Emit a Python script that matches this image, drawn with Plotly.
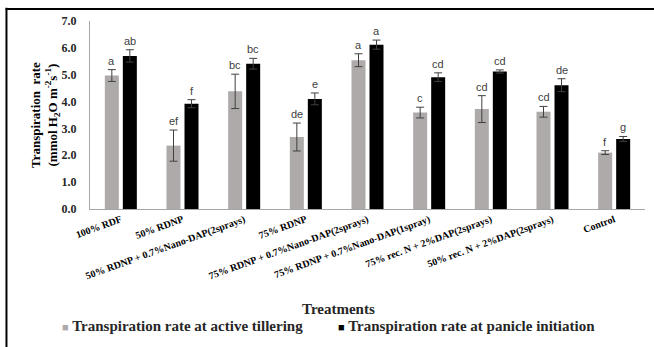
import plotly.graph_objects as go

# Treatments on the x axis
treatments = [
    "100% RDF",
    "50% RDNP",
    "50% RDNP + 0.7%Nano-DAP(2sprays)",
    "75% RDNP",
    "75% RDNP + 0.7%Nano-DAP(2sprays)",
    "75% RDNP + 0.7%Nano-DAP(1spray)",
    "75% rec. N + 2%DAP(2sprays)",
    "50% rec. N + 2%DAP(2sprays)",
    "Control",
]

# Transpiration rate (mmol H2O m-2 s-1) at active tillering
tillering = [4.97, 2.36, 4.38, 2.68, 5.54, 3.59, 3.72, 3.62, 2.10]
tillering_err = [0.22, 0.58, 0.64, 0.52, 0.24, 0.20, 0.50, 0.20, 0.07]
tillering_letters = ["a", "ef", "bc", "de", "a", "c", "cd", "cd", "f"]

# Transpiration rate at panicle initiation
panicle = [5.70, 3.92, 5.41, 4.10, 6.12, 4.91, 5.12, 4.61, 2.61]
panicle_err = [0.23, 0.15, 0.20, 0.22, 0.17, 0.16, 0.06, 0.24, 0.09]
panicle_letters = ["ab", "f", "bc", "e", "a", "cd", "cd", "de", "g"]

y_ticks = [0, 1, 2, 3, 4, 5, 6, 7]

series_names = [
    "Transpiration rate at active tillering",
    "Transpiration rate at panicle initiation",
]
GRAY = "#aeaaaa"
BLACK = "#000000"
SERIF = "Liberation Serif"

fig = go.Figure()

for vals, errs, color, name, leg in [
    (tillering, tillering_err, GRAY, series_names[0], "legend"),
    (panicle, panicle_err, BLACK, series_names[1], "legend2"),
]:
    fig.add_trace(go.Bar(
        x=treatments, y=vals, name=name, showlegend=False,
        marker=dict(color=color, line=dict(width=0)),
        error_y=dict(type="data", array=errs, visible=True,
                     color="#404040", thickness=1, width=4),
    ))
    # legend entry: a small square key drawn just before the series name
    key = f'<span style="font-size:11px;color:{color}">■</span> '
    fig.add_trace(go.Scatter(
        x=[None], y=[None], mode="markers", name=key + name, legend=leg,
        marker=dict(symbol="square", size=0, color="rgba(0,0,0,0)",
                    line=dict(width=0)),
    ))

# significance letters above each error bar
annotations = []
for i in range(len(treatments)):
    for vals, errs, letters, shift in [
        (tillering, tillering_err, tillering_letters, -9),
        (panicle, panicle_err, panicle_letters, 9),
    ]:
        annotations.append(dict(
            x=i, y=vals[i] + errs[i], xref="x", yref="y",
            text=letters[i], showarrow=False, xshift=shift, yshift=1,
            yanchor="bottom",
            font=dict(family="Liberation Sans", size=11, color="#404040"),
        ))

# y-axis title
annotations.append(dict(
    x=-0.081, y=0.5, xref="paper", yref="paper", showarrow=False,
    textangle=-90, xanchor="center", yanchor="middle",
    text="Transpiration  rate<br>(mmol H<sub>2</sub>O m<sup>-2</sup>s<sup>-1</sup>)",
    font=dict(family=SERIF, size=13, color="black", weight="bold"),
))
# x-axis title
annotations.append(dict(
    x=0.447, y=-0.53, xref="paper", yref="paper", showarrow=False,
    xanchor="center", yanchor="middle", text="Treatments",
    font=dict(family=SERIF, size=15, color="#262626", weight="bold"),
))

# outer frame (top and left edges)
shapes = [
    dict(type="line", xref="paper", yref="paper", x0=-0.152, x1=1.03,
         y0=1.064, y1=1.064, line=dict(color="black", width=2)),
    dict(type="line", xref="paper", yref="paper", x0=-0.1505, x1=-0.1505,
         y0=1.07, y1=-0.76, line=dict(color="black", width=2)),
]

legend_style = dict(
    orientation="h", y=-0.62, xanchor="left", yanchor="middle",
    font=dict(family=SERIF, size=15, color="#262626", weight="bold"),
    itemwidth=30, bgcolor="rgba(0,0,0,0)",
)

fig.update_layout(
    width=654, height=347,
    margin=dict(l=90, r=9, t=21, b=138, autoexpand=False),
    paper_bgcolor="white", plot_bgcolor="white",
    barmode="group", bargap=0.416, bargroupgap=0.222,
    annotations=annotations, shapes=shapes,
    legend=dict(x=-0.1225, **legend_style),
    legend2=dict(x=0.3748, **legend_style),
    xaxis=dict(
        showline=True, linecolor="#a6a6a6", linewidth=1,
        showgrid=False, ticks="", tickangle=-20,
        tickfont=dict(family=SERIF, size=10, color="black", weight="bold"),
    ),
    yaxis=dict(
        range=[0, 7], tickvals=y_ticks, tickformat=".1f",
        showline=True, linecolor="#a6a6a6", linewidth=1,
        showgrid=False, ticks="", zeroline=False, ticklabelstandoff=10,
        tickfont=dict(family=SERIF, size=12, color="#262626", weight="bold"),
    ),
)

fig.write_html("out.html")
